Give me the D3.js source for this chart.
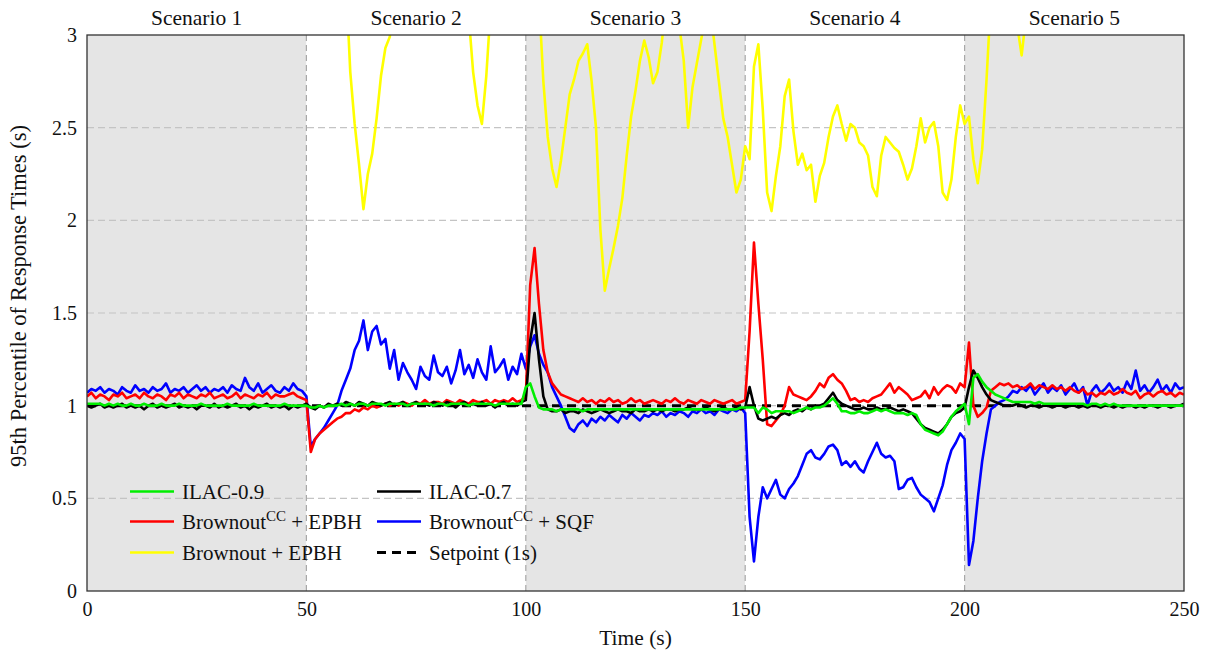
<!DOCTYPE html>
<html>
<head>
<meta charset="utf-8">
<script src="https://cdn.jsdelivr.net/npm/d3@7/dist/d3.min.js"></script>
<style>
    body { margin: 0; background: #fff; }
    #graph { width: 1208px; height: 652px; }
    svg text { fill: #111; }
</style>
</head>
<body>
<div id="graph"></div>
<script>
// scenario strips and axis ticks
const scenarioNames = ["Scenario 1", "Scenario 2", "Scenario 3", "Scenario 4", "Scenario 5"];
const scenarioEdges = [0, 50, 100, 150, 200, 250];
const xTicks = [0, 50, 100, 150, 200, 250];
const yTicks = [0, 0.5, 1, 1.5, 2, 2.5, 3];
const sampleStep = 1; // seconds between samples
const setpoint = 1;

// 95th percentile response time (s), one sample per second, t = 0..250
const ilac09 = [
    1.01,1.01,1.01,1.01,1.00,1.01,1.00,1.01,1.00,1.00, // 0
    1.01,1.00,1.00,1.01,1.00,1.00,1.00,1.01,1.00,1.00, // 10
    1.00,1.01,1.00,1.00,1.00,1.00,1.01,1.00,1.00,1.00, // 20
    1.00,1.00,1.01,1.00,1.00,1.00,1.00,1.00,1.01,1.00, // 30
    1.00,1.00,1.00,1.00,1.00,1.01,1.00,1.00,1.00,1.00, // 40
    1.00,0.99,0.99,1.00,0.99,1.00,1.00,1.00,1.01,1.00, // 50
    1.01,1.00,1.01,1.01,1.00,1.01,1.01,1.01,1.00,1.01, // 60
    1.01,1.01,1.01,1.00,1.01,1.01,1.01,1.01,1.01,1.00, // 70
    1.01,1.01,1.00,1.01,1.01,1.01,1.01,1.00,1.01,1.01, // 80
    1.01,1.01,1.01,1.00,1.01,1.01,1.01,1.01,1.01,1.01, // 90
    1.10,1.12,1.05,0.99,0.98,0.98,0.98,0.97,0.98,0.98, // 100
    0.98,0.98,0.98,0.97,0.98,0.98,0.98,0.98,0.98,0.98, // 110
    0.98,0.98,0.98,0.98,0.98,0.98,0.98,0.98,0.98,0.98, // 120
    0.98,0.98,0.98,0.98,0.98,0.98,0.98,0.98,0.98,0.98, // 130
    0.98,0.98,0.98,0.98,0.98,0.98,0.98,0.98,0.98,0.99, // 140
    0.99,0.99,0.99,0.96,0.99,0.98,0.96,0.97,0.97,0.97, // 150
    0.97,0.96,0.97,0.98,0.99,0.98,0.99,0.99,1.00,1.02, // 160
    1.04,1.01,0.97,0.97,0.96,0.96,0.97,0.96,0.96,0.97, // 170
    0.98,0.97,0.98,0.97,0.96,0.96,0.96,0.95,0.96,0.95, // 180
    0.90,0.87,0.86,0.85,0.84,0.86,0.90,0.94,0.97,0.99, // 190
    1.01,0.90,1.15,1.17,1.13,1.10,1.08,1.06,1.05,1.04, // 200
    1.03,1.02,1.02,1.02,1.02,1.02,1.01,1.02,1.01,1.01, // 210
    1.01,1.01,1.01,1.01,1.01,1.01,1.01,1.01,1.00,1.01, // 220
    1.01,1.00,1.01,1.00,1.01,1.00,1.00,1.00,1.00,1.00, // 230
    1.00,1.00,1.00,1.00,1.00,1.00,1.00,1.00,1.00,1.00,1.00 // 240
];

const ilac07 = [
    1.00,0.99,1.00,1.01,0.99,1.00,0.99,1.00,1.01,0.99, // 0
    1.00,0.99,1.00,0.98,1.00,1.01,0.99,1.00,0.99,1.00, // 10
    1.01,0.99,1.00,0.99,1.00,0.98,1.00,1.00,0.99,1.01, // 20
    0.99,1.00,0.99,1.00,1.01,0.99,1.00,0.98,1.00,0.99, // 30
    1.00,1.01,0.99,1.00,0.99,1.00,0.98,1.00,0.99,1.00, // 40
    1.01,0.99,0.98,1.00,0.99,1.01,1.00,1.01,1.00,1.02, // 50
    1.01,1.00,1.02,1.01,1.00,1.02,1.01,1.00,1.01,1.02, // 60
    1.00,1.01,1.02,1.00,1.01,1.02,1.00,1.01,1.00,1.02, // 70
    1.01,1.00,1.02,1.01,0.99,1.01,1.02,1.00,1.01,1.00, // 80
    1.02,1.00,1.01,0.99,1.01,1.02,1.00,1.01,1.00,1.02, // 90
    1.03,1.35,1.50,1.25,1.05,0.98,0.97,0.97,0.98,0.96, // 100
    0.97,0.97,0.96,0.98,0.97,0.96,0.97,0.98,0.97,0.96, // 110
    0.97,0.98,0.97,0.97,0.96,0.98,0.97,0.97,0.98,0.97, // 120
    0.98,0.97,0.98,0.98,0.97,0.98,0.98,0.99,0.98,0.98, // 130
    0.98,0.99,0.98,0.97,0.98,0.99,0.98,0.98,0.99,0.98, // 140
    0.99,1.10,1.00,0.93,0.92,0.93,0.94,0.93,0.95,0.96, // 150
    0.95,0.97,0.98,0.97,0.99,0.98,1.00,1.00,1.01,1.04, // 160
    1.07,1.03,1.01,1.00,0.99,0.98,0.98,0.99,0.98,0.98, // 170
    0.99,0.98,0.98,0.99,0.98,0.97,0.98,0.97,0.96,0.93, // 180
    0.90,0.88,0.87,0.86,0.85,0.87,0.90,0.94,0.96,0.97, // 190
    0.99,1.10,1.19,1.15,1.10,1.06,1.03,1.02,1.01,1.00, // 200
    1.00,1.00,1.01,1.00,0.99,1.00,1.00,0.99,1.00,1.00, // 210
    0.99,1.00,1.00,0.99,1.00,1.00,0.99,1.00,0.99,1.00, // 220
    1.00,0.99,1.00,1.00,0.99,1.00,0.99,1.00,1.00,0.99, // 230
    1.00,0.99,1.00,1.00,0.99,1.00,1.00,0.99,1.00,1.00,1.01 // 240
];

const brownoutCcEpbh = [
    1.05,1.07,1.04,1.06,1.05,1.03,1.06,1.05,1.07,1.04, // 0
    1.05,1.06,1.04,1.07,1.05,1.04,1.06,1.05,1.03,1.06, // 10
    1.05,1.07,1.04,1.06,1.05,1.04,1.06,1.05,1.07,1.04, // 20
    1.05,1.06,1.04,1.05,1.07,1.04,1.06,1.05,1.04,1.06, // 30
    1.05,1.07,1.04,1.06,1.05,1.05,1.06,1.07,1.05,1.04, // 40
    1.03,0.75,0.82,0.85,0.87,0.89,0.91,0.93,0.94,0.96, // 50
    0.96,0.98,0.97,0.99,0.98,1.00,0.99,1.00,1.01,1.00, // 60
    1.01,1.00,1.02,1.01,1.00,1.02,1.01,1.03,1.01,1.02, // 70
    1.02,1.01,1.03,1.02,1.01,1.03,1.02,1.01,1.03,1.02, // 80
    1.02,1.03,1.01,1.03,1.02,1.03,1.02,1.04,1.02,1.03, // 90
    1.05,1.65,1.85,1.55,1.30,1.18,1.12,1.09,1.06,1.05, // 100
    1.04,1.03,1.02,1.04,1.02,1.03,1.01,1.03,1.02,1.04, // 110
    1.02,1.03,1.01,1.02,1.04,1.02,1.03,1.01,1.02,1.03, // 120
    1.02,1.01,1.03,1.02,1.04,1.02,1.01,1.03,1.02,1.01, // 130
    1.03,1.02,1.01,1.03,1.02,1.01,1.02,1.03,1.01,1.02, // 140
    1.03,1.40,1.88,1.55,1.25,0.90,0.89,0.92,0.95,1.00, // 150
    1.10,1.06,1.05,1.04,1.03,1.05,1.08,1.12,1.10,1.15, // 160
    1.17,1.14,1.12,1.08,1.03,1.04,1.02,1.03,1.02,1.04, // 170
    1.05,1.06,1.09,1.12,1.07,1.10,1.08,1.06,1.03,1.04, // 180
    1.05,1.08,1.04,1.10,1.06,1.09,1.11,1.10,1.07,1.12, // 190
    1.10,1.34,1.00,0.94,0.96,0.99,1.08,1.10,1.12,1.11, // 200
    1.12,1.10,1.11,1.09,1.10,1.12,1.09,1.11,1.10,1.09, // 210
    1.11,1.09,1.10,1.08,1.10,1.08,1.07,1.09,1.06,1.07, // 220
    1.05,1.07,1.06,1.08,1.06,1.07,1.09,1.07,1.06,1.08, // 230
    1.04,1.06,1.07,1.05,1.07,1.08,1.06,1.07,1.05,1.07,1.06 // 240
];

const brownoutCcSqf = [
    1.07,1.09,1.08,1.10,1.07,1.09,1.08,1.06,1.10,1.08, // 0
    1.07,1.11,1.08,1.09,1.07,1.10,1.08,1.09,1.12,1.07, // 10
    1.09,1.08,1.10,1.07,1.09,1.11,1.08,1.10,1.07,1.09, // 20
    1.08,1.10,1.07,1.11,1.09,1.08,1.15,1.10,1.08,1.12, // 30
    1.07,1.09,1.11,1.08,1.07,1.10,1.08,1.12,1.09,1.08, // 40
    1.05,0.78,0.82,0.85,0.88,0.92,0.96,1.00,1.08,1.14, // 50
    1.20,1.30,1.35,1.46,1.30,1.40,1.43,1.33,1.36,1.20, // 60
    1.30,1.14,1.23,1.18,1.14,1.09,1.21,1.16,1.14,1.27, // 70
    1.18,1.16,1.21,1.12,1.19,1.30,1.17,1.22,1.15,1.25, // 80
    1.18,1.14,1.32,1.18,1.21,1.25,1.14,1.21,1.17,1.28, // 90
    1.20,1.32,1.38,1.28,1.22,1.18,1.10,1.05,1.00,0.94, // 100
    0.88,0.86,0.90,0.92,0.89,0.93,0.91,0.94,0.92,0.95, // 110
    0.93,0.91,0.95,0.93,0.96,0.94,0.92,0.95,0.94,0.96, // 120
    0.95,0.97,0.94,0.96,0.95,0.97,0.96,0.94,0.97,0.96, // 130
    0.98,0.96,0.97,0.95,0.98,0.97,0.96,0.98,0.97,0.99, // 140
    0.96,0.40,0.16,0.40,0.56,0.50,0.55,0.60,0.52,0.50, // 150
    0.55,0.58,0.62,0.68,0.74,0.76,0.72,0.71,0.74,0.78, // 160
    0.79,0.76,0.68,0.70,0.67,0.70,0.66,0.64,0.70,0.75, // 170
    0.80,0.74,0.72,0.73,0.70,0.55,0.56,0.60,0.61,0.56, // 180
    0.52,0.50,0.48,0.43,0.50,0.57,0.68,0.76,0.80,0.85, // 190
    0.82,0.14,0.27,0.50,0.70,0.85,0.98,1.00,1.02,1.03, // 200
    1.05,1.08,1.07,1.10,1.08,1.11,1.06,1.09,1.12,1.07, // 210
    1.10,1.08,1.11,1.06,1.09,1.12,1.07,1.10,1.00,1.08, // 220
    1.11,1.07,1.09,1.12,1.08,1.10,1.07,1.13,1.09,1.19, // 230
    1.08,1.11,1.07,1.10,1.14,1.08,1.11,1.07,1.12,1.09,1.10 // 240
];

// values above 3 run off the top of the plot
const brownoutEpbh = [
    3.3,3.3,3.3,3.3,3.3,3.3,3.3,3.3,3.3,3.3, // 0
    3.3,3.3,3.3,3.3,3.3,3.3,3.3,3.3,3.3,3.3, // 10
    3.3,3.3,3.3,3.3,3.3,3.3,3.3,3.3,3.3,3.3, // 20
    3.3,3.3,3.3,3.3,3.3,3.3,3.3,3.3,3.3,3.3, // 30
    3.3,3.3,3.3,3.3,3.3,3.3,3.3,3.3,3.3,3.3, // 40
    3.3,3.3,3.3,3.3,3.3,3.3,3.3,3.3,3.3,3.3, // 50
    2.80,2.52,2.30,2.06,2.25,2.36,2.55,2.78,2.93,2.99, // 60
    3.2,3.3,3.3,3.3,3.3,3.3,3.3,3.3,3.3,3.3, // 70
    3.3,3.3,3.3,3.3,3.3,3.3,3.3,3.10,2.80,2.62, // 80
    2.52,2.78,3.15,3.3,3.3,3.3,3.3,3.3,3.3,3.3, // 90
    3.3,3.3,3.3,3.2,2.75,2.45,2.28,2.18,2.32,2.50, // 100
    2.68,2.76,2.86,2.90,2.95,2.75,2.50,1.95,1.62,1.74, // 110
    1.85,1.97,2.12,2.35,2.56,2.70,2.86,2.97,2.88,2.74, // 120
    2.80,2.96,3.2,3.3,3.3,3.05,2.86,2.50,2.72,2.85, // 130
    2.98,3.1,3.15,2.95,2.75,2.55,2.45,2.30,2.15,2.22, // 140
    2.40,2.33,2.83,2.95,2.60,2.15,2.05,2.24,2.40,2.67, // 150
    2.76,2.48,2.30,2.36,2.27,2.30,2.10,2.24,2.31,2.45, // 160
    2.56,2.62,2.52,2.43,2.52,2.50,2.42,2.40,2.35,2.18, // 170
    2.13,2.35,2.45,2.42,2.39,2.37,2.30,2.22,2.28,2.40, // 180
    2.55,2.42,2.50,2.53,2.40,2.15,2.11,2.22,2.45,2.62, // 190
    2.52,2.56,2.33,2.20,2.38,2.76,3.2,3.3,3.3,3.3, // 200
    3.3,3.3,3.05,2.89,3.1,3.3,3.3,3.3,3.3,3.3, // 210
    3.3,3.3,3.3,3.3,3.3,3.3,3.3,3.3,3.3,3.3, // 220
    3.3,3.3,3.3,3.3,3.3,3.3,3.3,3.3,3.3,3.3, // 230
    3.3,3.3,3.3,3.3,3.3,3.3,3.3,3.3,3.3,3.3,3.3 // 240
];

// drawing order bottom -> top, legend slot gives row/column
const series = [
    {name: "Brownout + EPBH", values: brownoutEpbh, color: "#ffff00", slot: 4},
    {name: "Brownout^CC + SQF", values: brownoutCcSqf, color: "#0000ff", slot: 3},
    {name: "Brownout^CC + EPBH", values: brownoutCcEpbh, color: "#ff0000", slot: 2},
    {name: "ILAC-0.7", values: ilac07, color: "#000000", slot: 1},
    {name: "ILAC-0.9", values: ilac09, color: "#00ee00", slot: 0},
];

const serif = '"Liberation Serif", "DejaVu Serif", "Noto Serif", "FreeSerif", "Nimbus Roman", Times, serif';

function initial() {
    var W = 1208, H = 652,
        left = 87, right = 1184, top = 35, bottom = 591;

    var svg = d3.select('#graph').append("svg")
        .attr("width", W)
        .attr("height", H)
        .attr("font-family", serif);

    var x = d3.scaleLinear().domain([0, 250]).range([left, right]);
    var y = d3.scaleLinear().domain([0, 3]).range([bottom, top]);

    // grey bands for odd scenarios
    svg.selectAll(".band")
        .data(scenarioNames)
        .enter()
        .append("rect")
        .attr("x", (d, i) => x(scenarioEdges[i]))
        .attr("y", top)
        .attr("width", (d, i) => x(scenarioEdges[i + 1]) - x(scenarioEdges[i]))
        .attr("height", bottom - top)
        .attr("fill", (d, i) => i % 2 === 0 ? "#e5e5e5" : "#ffffff");

    // grid
    svg.selectAll(".hgrid")
        .data(yTicks.filter(v => v > 0 && v < 3))
        .enter()
        .append("line")
        .attr("x1", left).attr("x2", right)
        .attr("y1", d => y(d)).attr("y2", d => y(d))
        .attr("stroke", "#c4c4c4")
        .attr("stroke-width", 1.2)
        .attr("stroke-dasharray", "7,4");

    svg.selectAll(".vgrid")
        .data(scenarioEdges.slice(1, -1))
        .enter()
        .append("line")
        .attr("x1", d => x(d)).attr("x2", d => x(d))
        .attr("y1", top).attr("y2", bottom)
        .attr("stroke", "#a8a8a8")
        .attr("stroke-width", 1.2)
        .attr("stroke-dasharray", "6,4");

    // scenario titles
    svg.selectAll(".scen")
        .data(scenarioNames)
        .enter()
        .append("text")
        .attr("x", (d, i) => x((scenarioEdges[i] + scenarioEdges[i + 1]) / 2))
        .attr("y", 25)
        .attr("text-anchor", "middle")
        .attr("font-family", serif)
        .style("font-size", "21.5px")
        .text(d => d);

    svg.append("clipPath").attr("id", "plotClip")
        .append("rect")
        .attr("x", left).attr("y", top)
        .attr("width", right - left).attr("height", bottom - top);

    var plot = svg.append("g").attr("clip-path", "url(#plotClip)");

    var line = d3.line()
        .x((d, i) => x(i * sampleStep))
        .y(d => y(d));

    // setpoint
    plot.append("line")
        .attr("x1", x(0)).attr("x2", x(250))
        .attr("y1", y(setpoint)).attr("y2", y(setpoint))
        .attr("stroke", "#000")
        .attr("stroke-width", 3)
        .attr("stroke-dasharray", "9,6");

    plot.selectAll(".series")
        .data(series)
        .enter()
        .append("path")
        .attr("d", d => line(d.values))
        .attr("fill", "none")
        .attr("stroke", d => d.color)
        .attr("stroke-width", 2.6)
        .attr("stroke-linejoin", "round");

    // axes
    var xAxis = d3.axisBottom(x).tickValues(xTicks).tickSize(0).tickPadding(11);
    var yAxis = d3.axisLeft(y).tickValues(yTicks).tickSize(0).tickPadding(10)
        .tickFormat(d3.format("~g"));

    var gx = svg.append("g").attr("transform", "translate(0," + bottom + ")").call(xAxis);
    var gy = svg.append("g").attr("transform", "translate(" + left + ",0)").call(yAxis);
    [gx, gy].forEach(g => {
        g.attr("font-family", serif).attr("font-size", 20);
        g.select(".domain").remove();
        g.selectAll("text")
            .attr("font-family", serif)
            .style("font-size", "20px")
            .attr("fill", "#111");
    });

    svg.append("rect")
        .attr("x", left).attr("y", top)
        .attr("width", right - left).attr("height", bottom - top)
        .attr("fill", "none")
        .attr("stroke", "#333")
        .attr("stroke-width", 1.3);

    // axis titles
    svg.append("text")
        .attr("x", x(125))
        .attr("y", 645)
        .attr("text-anchor", "middle")
        .attr("font-family", serif)
        .style("font-size", "21.5px")
        .text("Time (s)");

    svg.append("text")
        .attr("transform", "translate(26,296) rotate(-90)")
        .attr("text-anchor", "middle")
        .attr("font-family", serif)
        .style("font-size", "22.5px")
        .text("95th Percentile of Response Times (s)");

    // legend, 2 columns x 3 rows
    var legendCols = [130, 377], legendRows = [491.5, 521.5, 552.5];
    var legendItems = series.map(s => ({name: s.name, color: s.color, slot: s.slot, dash: null}))
        .concat([{name: "Setpoint (1s)", color: "#000", slot: 5, dash: "9,6"}]);

    var leg = svg.selectAll(".leg")
        .data(legendItems)
        .enter()
        .append("g")
        .attr("transform", d => "translate(" + legendCols[d.slot % 2] + "," + legendRows[Math.floor(d.slot / 2)] + ")");

    leg.append("line")
        .attr("x1", 0).attr("x2", 44)
        .attr("stroke", d => d.color)
        .attr("stroke-width", d => d.dash ? 3 : 2.6)
        .attr("stroke-dasharray", d => d.dash);

    leg.each(function(d) {
        var t = d3.select(this).append("text")
            .attr("x", 52).attr("y", 7)
            .attr("font-family", serif)
            .style("font-size", "21px");
        var parts = d.name.split("^CC");
        t.append("tspan").text(parts[0]);
        if (parts.length > 1) {
            t.append("tspan").attr("dy", -8).style("font-size", "15px").text("CC");
            t.append("tspan").attr("dy", 8).text(parts[1]);
        }
    });
}

initial();
</script>
</body>
</html>
